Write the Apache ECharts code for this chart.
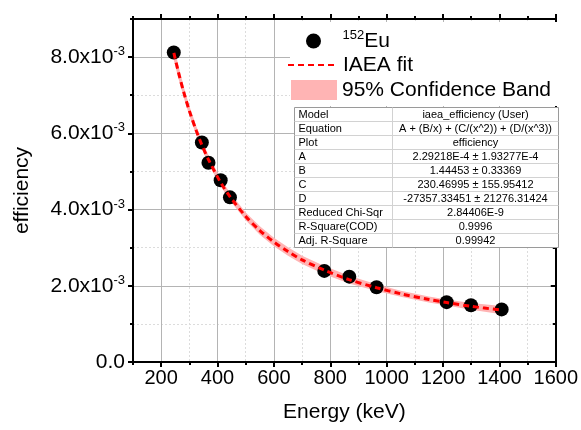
<!DOCTYPE html>
<html>
<head>
<meta charset="utf-8">
<script src="https://cdn.jsdelivr.net/npm/echarts@6/dist/echarts.min.js"></script>
<style>html,body{margin:0;padding:0;background:#fff;}#c{width:581px;height:430px;}</style>
</head>
<body>
<div id="c"></div>
<script>
// measured points (152Eu)
const energy = [244.7, 344.3, 367.8, 411.1, 444.0, 778.9, 867.4, 964.1, 1212.9, 1299.1, 1408.0];
const efficiency = [0.00812, 0.00576, 0.00523, 0.00477, 0.00432, 0.00239, 0.00224, 0.00196, 0.00157, 0.00149, 0.00138];
// fit curve
const fitEnergy = [245, 260, 280, 300, 325, 344, 370, 411, 444, 500, 550, 600, 650, 700, 779, 867, 964, 1050, 1150, 1213, 1300, 1408];
const fitEff = [0.00811, 0.00764, 0.00708, 0.00659, 0.00606, 0.00570, 0.00528, 0.00471, 0.00434, 0.00382, 0.00345, 0.00315, 0.00290, 0.00268, 0.00241, 0.00216, 0.00195, 0.00179, 0.00164, 0.00156, 0.00146, 0.00136];
// half width of the 95% confidence band
const bandHalf = [0.00020, 0.00017, 0.00014, 0.00013, 0.00012, 0.00011, 0.00011, 0.00010, 0.00010, 0.00010, 0.00011, 0.00011, 0.00011, 0.00011, 0.00011, 0.00010, 0.00009, 0.00008, 0.00008, 0.00008, 0.00009, 0.00011];
// tick labels
const xTicks = [200, 400, 600, 800, 1000, 1200, 1400, 1600];
const yTicks = [0, 0.002, 0.004, 0.006, 0.008];
// fit table
const tableLabels = ['Model', 'Equation', 'Plot', 'A', 'B', 'C', 'D', 'Reduced Chi-Sqr', 'R-Square(COD)', 'Adj. R-Square'];
const tableValues = ['iaea_efficiency (User)', 'A + (B/x) + (C/(x^2)) + (D/(x^3))', 'efficiency', '2.29218E-4 \u00b1 1.93277E-4', '1.44453 \u00b1 0.33369', '230.46995 \u00b1 155.95412', '-27357.33451 \u00b1 21276.31424', '2.84406E-9', '0.9996', '0.99942'];

const FONT = "'Liberation Sans', Arial, sans-serif";
const chart = echarts.init(document.getElementById('c'));

const bandData = fitEnergy.map((e, i) => [e, fitEff[i] + bandHalf[i], fitEff[i] - bandHalf[i]]);
const fitData = fitEnergy.map((e, i) => [e, fitEff[i]]);
const ptData = energy.map((e, i) => [e, efficiency[i]]);

const axisLine = { show: true, onZero: false, lineStyle: { color: '#000', width: 2 } };

function xA(pos, major, extra) {
  return Object.assign({
    type: 'value', position: pos, min: 100, max: 1600,
    axisLine: axisLine,
    axisTick: major ? { show: true, inside: false, length: 5, customValues: xTicks, lineStyle: { color: '#000', width: 2 } }
                    : { show: true, inside: false, length: 3, lineStyle: { color: '#000', width: 2 } },
    axisLabel: { show: false },
    splitLine: { show: false }
  }, major ? {} : { interval: 100 }, extra || {});
}
function yA(pos, major, inside, extra) {
  return Object.assign({
    type: 'value', position: pos, min: 0, max: 0.009,
    axisLine: axisLine,
    axisTick: major ? { show: true, inside: inside, length: 5, customValues: yTicks, lineStyle: { color: '#000', width: 2 } }
                    : { show: true, inside: inside, length: 3, lineStyle: { color: '#000', width: 2 } },
    axisLabel: { show: false },
    splitLine: { show: false }
  }, major ? {} : { interval: 0.001 }, extra || {});
}

const option = {
  backgroundColor: '#fff',
  animation: false,
  textStyle: { fontFamily: FONT },
  grid: { left: 133, right: 24, top: 19, bottom: 68 },
  xAxis: [
    xA('bottom', false, { splitLine: { show: true, lineStyle: { color: '#dcdcdc', type: [2, 2], width: 1 } } }),
    xA('bottom', true, {
      splitLine: { show: true, lineStyle: { color: '#b4b4b4', width: 1 } },
      axisLabel: { show: true, customValues: xTicks, color: '#000', fontSize: 20, fontFamily: FONT, margin: 6,
                   formatter: function (v) { return String(v); } },
      name: 'Energy (keV)', nameLocation: 'middle', nameGap: 40,
      nameTextStyle: { color: '#000', fontSize: 21, fontFamily: FONT }
    }),
    xA('top', false),
    xA('top', true)
  ],
  yAxis: [
    yA('left', false, false, { splitLine: { show: true, lineStyle: { color: '#dcdcdc', type: [2, 2], width: 1 } } }),
    yA('left', true, false, {
      splitLine: { show: true, lineStyle: { color: '#b4b4b4', width: 1 } },
      axisLabel: {
        show: true, customValues: yTicks, margin: 8,
        formatter: function (v) {
          if (Math.abs(v) < 1e-12) return '{m|0.0}';
          return '{m|' + (v * 1000).toFixed(1) + 'x10}{s|-3}';
        },
        rich: {
          m: { fontSize: 21, fontFamily: FONT, color: '#000', lineHeight: 24 },
          s: { fontSize: 13, fontFamily: FONT, color: '#000', lineHeight: 14, verticalAlign: 'top' }
        }
      },
      name: 'efficiency', nameLocation: 'middle', nameGap: 100,
      nameTextStyle: { color: '#000', fontSize: 21, fontFamily: FONT }
    }),
    yA('right', false, true),
    yA('right', true, true)
  ],
  legend: [
    {
      data: [{ name: '152Eu', icon: 'circle' }], left: 306, top: 29, padding: 0, z: 10,
      itemWidth: 48, itemHeight: 15, selectedMode: false,
      formatter: function () { return '{s|152}{m|Eu}'; },
      textStyle: {
        color: '#000', fontFamily: FONT, fontSize: 21,
        rich: {
          m: { fontSize: 21, fontFamily: FONT, color: '#000', lineHeight: 24 },
          s: { fontSize: 13, fontFamily: FONT, color: '#000', lineHeight: 14, verticalAlign: 'top' }
        }
      }
    },
    {
      data: ['IAEA fit'], left: 287, top: 53, padding: 0, z: 10,
      itemWidth: 50, itemHeight: 14, selectedMode: false,
      itemStyle: { opacity: 0 },
      textStyle: { color: '#000', fontFamily: FONT, fontSize: 21, lineHeight: 24 }
    },
    {
      data: [{ name: '95% Confidence Band', icon: 'rect' }], left: 291, top: 78, padding: 0, z: 10,
      itemWidth: 46, itemHeight: 20, selectedMode: false,
      textStyle: { color: '#000', fontFamily: FONT, fontSize: 21, lineHeight: 24 }
    }
  ],
  graphic: {
    elements: [
      { type: 'rect', left: 290, top: 22, z: 5, shape: { width: 267, height: 84 }, style: { fill: '#fff' } },
      {
        type: 'group', left: 292, top: 105, z: 6,
        children: [
          { type: 'rect', z: 6, shape: { x: 0, y: 0, width: 264, height: 140 }, style: { fill: '#fff', stroke: '#9a9a9a', lineWidth: 1 } }
        ].concat(
          tableLabels.slice(1).map((_, i) => ({ type: 'line', z: 7, shape: { x1: 0, y1: 14 * (i + 1), x2: 264, y2: 14 * (i + 1) }, style: { stroke: '#d2d2d2', lineWidth: 1 } })),
          [{ type: 'line', z: 7, shape: { x1: 98, y1: 0, x2: 98, y2: 140 }, style: { stroke: '#d2d2d2', lineWidth: 1 } }],
          tableLabels.map((t, i) => ({ type: 'text', z: 8, x: 4, y: 14 * i + 7, style: { text: t, fill: '#000', font: '11px ' + FONT, textAlign: 'left', textVerticalAlign: 'middle' } })),
          tableValues.map((t, i) => ({ type: 'text', z: 8, x: 181, y: 14 * i + 7, style: { text: t, fill: '#000', font: '11px ' + FONT, textAlign: 'center', textVerticalAlign: 'middle' } }))
        )
      }
    ]
  },
  series: [
    {
      name: '95% Confidence Band', type: 'custom', xAxisIndex: 1, yAxisIndex: 1, data: bandData,
      encode: { x: 0, y: 1 }, z: 1, silent: true, itemStyle: { color: '#ffb4b4' },
      renderItem: function (params, api) {
        if (params.dataIndex !== 0) return null;
        const pts = [];
        for (let i = 0; i < bandData.length; i++) pts.push(api.coord([bandData[i][0], bandData[i][1]]));
        for (let i = bandData.length - 1; i >= 0; i--) pts.push(api.coord([bandData[i][0], bandData[i][2]]));
        return { type: 'polygon', shape: { points: pts }, style: { fill: '#ffb4b4' } };
      }
    },
    {
      name: '152Eu', type: 'scatter', xAxisIndex: 1, yAxisIndex: 1, data: ptData,
      symbol: 'circle', symbolSize: 14, itemStyle: { color: '#000', opacity: 1 }, z: 2
    },
    {
      name: 'IAEA fit', type: 'line', xAxisIndex: 1, yAxisIndex: 1, data: fitData,
      smooth: 0.3, symbol: 'none', itemStyle: { color: '#ff0000' },
      lineStyle: { color: '#ff0000', width: 3, type: [6, 4] }, z: 3
    }
  ]
};
chart.setOption(option);
</script>
</body>
</html>
